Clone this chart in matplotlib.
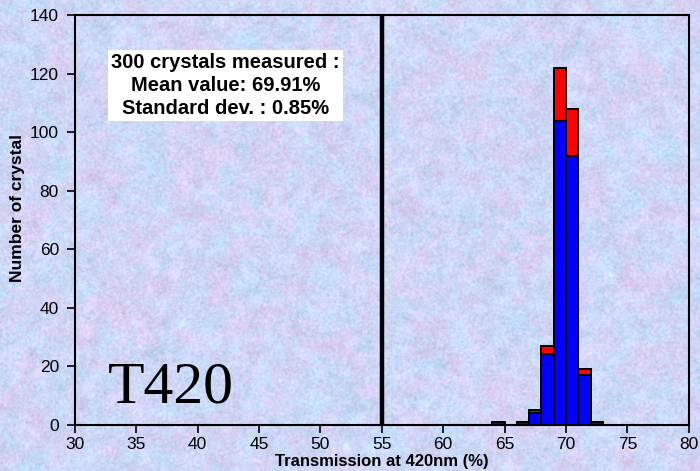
"""
Transmission at 420 nm histogram for the T420 crystal batch
"""
import numpy as np
import matplotlib
matplotlib.use('Agg')
import matplotlib.pyplot as plt

# Histogram counts per 1 % bin (left edge of each bin)
bin_left = [64, 66, 67, 68, 69, 70, 71, 72]
count_blue = [1, 1, 4, 24, 104, 92, 17, 1]
count_red = [0, 0, 1, 3, 18, 16, 2, 0]

x_ticks = [30, 35, 40, 45, 50, 55, 60, 65, 70, 75, 80]
y_ticks = [0, 20, 40, 60, 80, 100, 120, 140]
cut_value = 55

summary_lines = ['300 crystals measured :',
                 'Mean value: 69.91%',
                 'Standard dev. : 0.85%']


def mottled_background(h, w, seed=7):
    # soft blue / lilac / pink paper texture
    rng = np.random.default_rng(seed)

    def smooth_field(scale):
        noise = rng.standard_normal((h, w))
        fy = np.fft.fftfreq(h)[:, None]
        fx = np.fft.fftfreq(w)[None, :]
        kernel = np.exp(-(fx ** 2 + fy ** 2) * (scale ** 2) * 2 * np.pi ** 2)
        f = np.real(np.fft.ifft2(np.fft.fft2(noise) * kernel))
        return (f - f.mean()) / f.std()

    hue = 0.55 * smooth_field(7) + 0.45 * smooth_field(1.5)
    light = 0.4 * smooth_field(4) + 0.6 * smooth_field(0.8)
    blue = np.array([195, 222, 250]) / 255.0
    pink = np.array([220, 207, 242]) / 255.0
    t = np.clip(0.5 + 0.3 * hue, 0, 1)[..., None]
    img = blue * (1 - t) + pink * t
    img = img + 0.03 * light[..., None]
    return np.clip(img, 0, 1)


def create_transmission_histogram():
    plt.rcParams['font.family'] = ['Liberation Sans', 'DejaVu Sans']
    fig = plt.figure(figsize=(7, 4.71), dpi=100)

    # textured backdrop over the whole figure
    bg = fig.add_axes([0, 0, 1, 1], zorder=0)
    bg.imshow(mottled_background(471, 700), aspect='auto', interpolation='nearest')
    bg.axis('off')

    ax = fig.add_axes([0.107, 0.0987, 0.877, 0.8688], zorder=1)
    ax.patch.set_alpha(0)

    ax.bar(bin_left, count_blue, width=1, align='edge', color='#0000FF',
           edgecolor='black', linewidth=1.4, zorder=3)
    ax.bar(bin_left, count_red, width=1, align='edge', bottom=count_blue,
           color='#FF0000', edgecolor='black', linewidth=1.4, zorder=3)

    # cut line
    ax.axvline(cut_value, color='black', linewidth=3.2, zorder=4)

    ax.set_xlim(30, 80)
    ax.set_ylim(0, 140)
    ax.set_xticks(x_ticks)
    ax.set_yticks(y_ticks)
    ax.tick_params(direction='out', length=6, width=1.2, labelsize=12.5)
    ax.tick_params(axis='x', pad=3)
    ax.tick_params(axis='y', pad=5.5)
    for s in ax.spines.values():
        s.set_linewidth(1.5)

    ax.set_xlabel('Transmission at 420nm (%)', fontsize=12, fontweight='bold', labelpad=1.5)
    ax.set_ylabel('Number of crystal', fontsize=12.5, fontweight='bold')
    ax.yaxis.set_label_coords(-0.082, 0.53)

    ax.text(0.245, 0.829, '\n'.join(summary_lines), transform=ax.transAxes,
            fontsize=14.5, fontweight='bold', ha='center', va='center',
            linespacing=1.25,
            bbox=dict(boxstyle='square,pad=0.15', facecolor='white', edgecolor='none'))

    ax.text(0.054, 0.055, 'T420', transform=ax.transAxes, fontsize=43,
            family='Liberation Serif', ha='left', va='baseline')

    fig.savefig('out.png', dpi=100)


if __name__ == '__main__':
    create_transmission_histogram()
